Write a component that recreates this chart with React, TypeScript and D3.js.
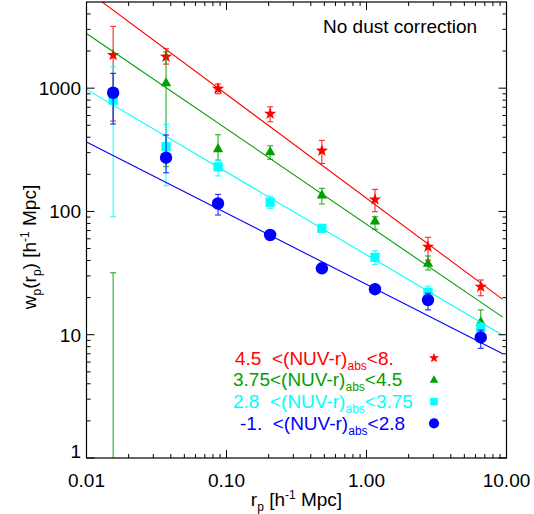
import React from "react";
import * as d3 from "d3";

// ---------- data ----------
const rp = [0.0155, 0.037, 0.087, 0.205, 0.48, 1.15, 2.75, 6.55];

const seriesNames = ["red", "green", "cyan", "blue"];
const seriesColors = ["#ff0000", "#00a000", "#00ffff", "#0000ff"];
const seriesShapes = ["star", "triangle", "square", "circle"];
const legendPrefix = ["4.5  ", "3.75", "2.8  ", "-1.  "];
const legendSuffix = ["<8.", "<4.5", "<3.75", "<2.8"];

const redVal = [1855, 1800, 990, 620, 311, 125, 51.7, 24.5];
const redHi = [3170, 2087, 1080, 706, 377, 151, 61.7, 27.8];
const redLo = [541, 1567, 901, 534, 245, 99.5, 40.3, 20.7];

const greenVal = [0.4, 1106, 323, 305, 136, 84, 38, 12.7];
const greenHi = [31.8, 1974, 419, 341, 154, 90.6, 43.5, 15.9];
const greenLo = [0.05, 231, 261, 265, 115, 71.6, 33.5, 9.8];

const cyanVal = [800, 335, 230, 119, 73, 42.4, 22.1, 11.4];
const cyanHi = [1490, 508, 258, 133, 78, 48, 24.8, 12.4];
const cyanLo = [90.6, 161.6, 194, 106, 68, 37.2, 21, 10.5];

const blueVal = [918, 273, 116, 64.4, 34.6, 23.4, 19.1, 9.5];
const blueHi = [1319, 417, 137.6, 68.5, 36.5, 24.5, 21.7, 10.9];
const blueLo = [512, 206, 93.5, 60.5, 32.8, 22.3, 15.9, 7.76];

// power-law fits: w = amp * r^slope
const fitAmp = [128, 78.7, 44.5, 25.6];
const fitSlope = [-0.843, -0.774, -0.671, -0.578];
const fitRange = [0.01, 9.4];

const xTickValues = [0.01, 0.1, 1, 10];
const xTickLabels = ["0.01", "0.10", "1.00", "10.00"];
const yTickValues = [1, 10, 100, 1000];
const yTickLabels = ["1", "10", "100", "1000"];

const allVals = [redVal, greenVal, cyanVal, blueVal];
const allHi = [redHi, greenHi, cyanHi, blueHi];
const allLo = [redLo, greenLo, cyanLo, blueLo];

// ---------- layout ----------
const W = 534;
const H = 514;
const L = 86.5;
const R = 506.5;
const T = 2;
const B = 458;
const FONT = "'Liberation Sans', Arial, Helvetica, sans-serif";
const FS = 19;

const x = d3.scaleLog().domain([0.01, 10]).range([L, R]);
const y = d3.scaleLog().domain([1, 5000]).range([B, T]);

function starPath(R0: number, r0: number) {
  const pts: [number, number][] = [];
  for (let i = 0; i < 10; i++) {
    const a = -Math.PI / 2 + (i * Math.PI) / 5;
    const rr = i % 2 === 0 ? R0 : r0;
    pts.push([rr * Math.cos(a), rr * Math.sin(a)]);
  }
  return "M" + pts.map((p) => p.join(",")).join("L") + "Z";
}

function Marker({ shape, color, cx, cy, s }: { shape: string; color: string; cx: number; cy: number; s: number }) {
  if (shape === "star") {
    return <path d={starPath(6.5 * s, 2.6 * s)} transform={`translate(${cx},${cy})`} fill={color} />;
  }
  if (shape === "triangle") {
    const w = 5.2 * s;
    return (
      <path
        d={`M0,${-5.6 * s}L${w},${3.6 * s}L${-w},${3.6 * s}Z`}
        transform={`translate(${cx},${cy})`}
        fill={color}
      />
    );
  }
  if (shape === "square") {
    const h = 4.6 * s;
    return <rect x={cx - h} y={cy - h} width={2 * h} height={2 * h} fill={color} />;
  }
  return <circle cx={cx} cy={cy} r={6.2 * s} fill={color} />;
}

function minorTicks(lo: number, hi: number) {
  const out: number[] = [];
  for (let e = -3; e <= 4; e++) {
    for (let m = 2; m <= 9; m++) {
      const v = m * Math.pow(10, e);
      if (v > lo && v < hi) out.push(v);
    }
  }
  return out;
}

export default function App() {
  const xMinor = minorTicks(0.01, 10);
  const yMinor = minorTicks(1, 5000);

  return (
    <svg
      width={W}
      height={H}
      viewBox={`0 0 ${W} ${H}`}
      style={{ position: "absolute", left: 0, top: 0, background: "#fff" }}
      fontFamily={FONT}
    >
      <defs>
        <clipPath id="plot">
          <rect x={L} y={T} width={R - L} height={B - T} />
        </clipPath>
      </defs>
      <rect x={0} y={0} width={W} height={H} fill="#fff" />

      <g clipPath="url(#plot)">
        {seriesNames.map((name, si) => {
          const color = seriesColors[si];
          const fit = (r: number) => fitAmp[si] * Math.pow(r, fitSlope[si]);
          const lp = d3
            .line<number>()
            .x((r) => x(r))
            .y((r) => y(fit(r)));
          return (
            <g key={name}>
              <path d={lp(fitRange) || ""} stroke={color} strokeWidth={1.1} fill="none" />
              {rp.map((r, i) => {
                const cx = x(r);
                const yh = y(Math.max(allHi[si][i], 0.01));
                const yl = y(Math.max(allLo[si][i], 0.01));
                return (
                  <g key={i} stroke={color} strokeWidth={1.1} opacity={0.85}>
                    <line x1={cx} x2={cx} y1={yh} y2={yl} />
                    <line x1={cx - 3} x2={cx + 3} y1={yh} y2={yh} />
                    <line x1={cx - 3} x2={cx + 3} y1={yl} y2={yl} />
                  </g>
                );
              })}
              {rp.map((r, i) => (
                <Marker
                  key={"m" + i}
                  shape={seriesShapes[si]}
                  color={color}
                  cx={x(r)}
                  cy={y(allVals[si][i])}
                  s={1}
                />
              ))}
            </g>
          );
        })}
      </g>

      {/* axes box */}
      <rect x={L} y={T} width={R - L} height={B - T} fill="none" stroke="#000" strokeWidth={1.2} />

      {/* x ticks */}
      {xTickValues.map((v) => (
        <g key={"xt" + v} stroke="#000" strokeWidth={1}>
          <line x1={x(v)} x2={x(v)} y1={B} y2={B - 8} />
          <line x1={x(v)} x2={x(v)} y1={T} y2={T + 8} />
        </g>
      ))}
      {xMinor.map((v) => (
        <g key={"xm" + v} stroke="#000" strokeWidth={1}>
          <line x1={x(v)} x2={x(v)} y1={B} y2={B - 4} />
          <line x1={x(v)} x2={x(v)} y1={T} y2={T + 4} />
        </g>
      ))}
      {xTickValues.map((v, i) => (
        <text key={"xl" + v} x={x(v)} y={487} textAnchor="middle" fontSize={FS} fill="#000">
          {xTickLabels[i]}
        </text>
      ))}

      {/* y ticks */}
      {yTickValues.map((v) => (
        <g key={"yt" + v} stroke="#000" strokeWidth={1}>
          <line x1={L} x2={L + 8} y1={y(v)} y2={y(v)} />
          <line x1={R} x2={R - 8} y1={y(v)} y2={y(v)} />
        </g>
      ))}
      {yMinor.map((v) => (
        <g key={"ym" + v} stroke="#000" strokeWidth={1}>
          <line x1={L} x2={L + 4} y1={y(v)} y2={y(v)} />
          <line x1={R} x2={R - 4} y1={y(v)} y2={y(v)} />
        </g>
      ))}
      {yTickValues.map((v, i) => (
        <text
          key={"yl" + v}
          x={L - 5.5}
          y={Math.min(y(v) + 6.8, B - 0.5)}
          textAnchor="end"
          fontSize={FS}
          fill="#000"
        >
          {yTickLabels[i]}
        </text>
      ))}

      {/* axis titles */}
      <text x={(L + R) / 2} y={506} textAnchor="middle" fontSize={FS} fill="#000">
        r<tspan fontSize={12} dy={5}>p</tspan>
        <tspan dy={-5}> [h</tspan>
        <tspan fontSize={12} dy={-7}>-1</tspan>
        <tspan dy={7}> Mpc]</tspan>
      </text>
      <text
        transform={`translate(36,${(T + B) / 2 + 17}) rotate(-90)`}
        textAnchor="middle"
        fontSize={FS}
        fill="#000"
      >
        w<tspan fontSize={12} dy={5}>p</tspan>
        <tspan dy={-5}>(r</tspan>
        <tspan fontSize={12} dy={5}>p</tspan>
        <tspan dy={-5}>) [h</tspan>
        <tspan fontSize={12} dy={-7}>-1</tspan>
        <tspan dy={7}> Mpc]</tspan>
      </text>

      {/* annotation */}
      <text x={323} y={33} fontSize={FS} fill="#000">
        No dust correction
      </text>

      {/* legend */}
      {seriesNames.map((name, si) => {
        const ly = 358 + si * 21.8;
        const color = seriesColors[si];
        const tx = si === 3 ? 240 : si === 0 ? 235 : 233;
        return (
          <g key={"lg" + name}>
            <text x={tx} y={ly + 6.5} fontSize={FS} fill={color} xmlSpace="preserve" style={{ whiteSpace: "pre" }}>
              {legendPrefix[si] + "<(NUV-r)"}
              <tspan fontSize={12} dy={5}>abs</tspan>
              <tspan dy={-5}>{legendSuffix[si]}</tspan>
            </text>
            <Marker shape={seriesShapes[si]} color={color} cx={434} cy={ly} s={0.82} />
          </g>
        );
      })}
    </svg>
  );
}
